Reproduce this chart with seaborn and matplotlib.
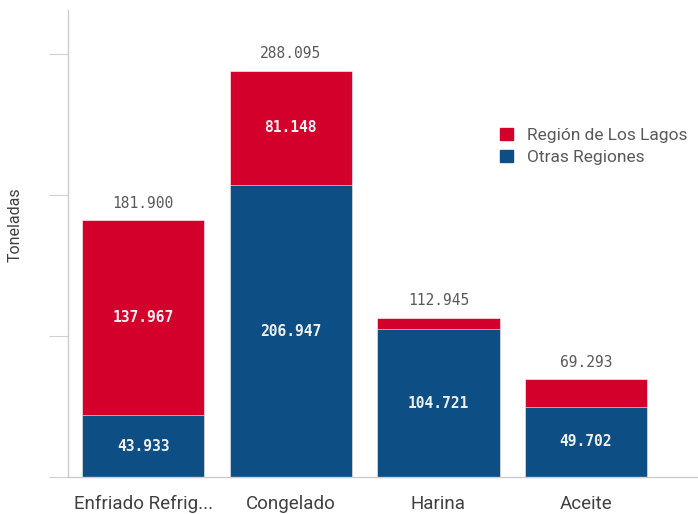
import numpy as np
import pandas as pd
import seaborn as sns
import matplotlib.pyplot as plt
from matplotlib.patches import Patch

# data (toneladas)
categorias = ['Enfriado Refrig...', 'Congelado', 'Harina', 'Aceite']
los_lagos = [137967, 81148, 8224, 19591]
otras = [43933, 206947, 104721, 49702]
etiquetas_lagos = ['137.967', '81.148', '', '']
etiquetas_otras = ['43.933', '206.947', '104.721', '49.702']
etiquetas_total = ['181.900', '288.095', '112.945', '69.293']

rojo = '#d3002c'
azul = '#0d4f85'
gris = '#595959'

sns.set_style('white')
plt.rcParams['font.family'] = ['Roboto', 'DejaVu Sans']

df = pd.DataFrame({'categoria': categorias, 'lagos': los_lagos, 'otras': otras})
df['total'] = df['lagos'] + df['otras']

fig = plt.figure(figsize=(6.98, 5.14), dpi=100)
ax = fig.add_axes([0.0974, 0.072, 0.9026, 0.9085])

# stacked bars: total in red, the "otras" part drawn over it in blue
sns.barplot(data=df, x='categoria', y='total', color=rojo, saturation=1, width=0.83,
            edgecolor='white', linewidth=0.4, ax=ax)
sns.barplot(data=df, x='categoria', y='otras', color=azul, saturation=1, width=0.83,
            edgecolor='white', linewidth=0.4, ax=ax)

bars_total = ax.patches[:len(categorias)]
bars_otras = ax.patches[len(categorias):]

for i, (bt, bo) in enumerate(zip(bars_total, bars_otras)):
    cx = bt.get_x() + bt.get_width() / 2
    top = bt.get_height()
    low = bo.get_height()
    ax.annotate(etiquetas_total[i], (cx, top), xytext=(0, 7), textcoords='offset points',
                ha='center', va='bottom', fontsize=10.5, color=gris, family='DejaVu Sans Mono')
    if etiquetas_lagos[i]:
        ax.text(cx, (top + low) / 2, etiquetas_lagos[i], ha='center', va='center',
                fontsize=10.5, color='#f0f0f0', fontweight='bold', family='DejaVu Sans Mono')
    ax.text(cx, low / 2, etiquetas_otras[i], ha='center', va='center',
            fontsize=10.5, color='#f0f0f0', fontweight='bold', family='DejaVu Sans Mono')

ax.set_xlim(-0.51, 3.76)
ax.set_ylim(0, 331000)
ax.set_yticks([0, 100000, 200000, 300000])
ax.set_yticklabels([])
ax.tick_params(axis='y', length=14, color='#d0d0d0', left=True, direction='out')
ax.tick_params(axis='x', length=0, labelsize=13.5, labelcolor='#404040', pad=13)
ax.set_xlabel('')
ax.set_ylabel('Toneladas', fontsize=11.5, color='#404040')
ax.yaxis.set_label_coords(-0.072, 0.54)

for s in ['top', 'right']:
    ax.spines[s].set_visible(False)
for s in ['left', 'bottom']:
    ax.spines[s].set_color('#cccccc')
    ax.spines[s].set_linewidth(1)

handles = [Patch(color=rojo, label='Región de Los Lagos'), Patch(color=azul, label='Otras Regiones')]
fig.legend(handles=handles, loc='upper left', bbox_to_anchor=(0.707, 0.765), frameon=False,
           fontsize=12.5, labelcolor='#595959', handlelength=0.75, handleheight=0.75,
           handletextpad=0.8, labelspacing=0.38, borderaxespad=0)

fig.savefig('out.png', dpi=100)
